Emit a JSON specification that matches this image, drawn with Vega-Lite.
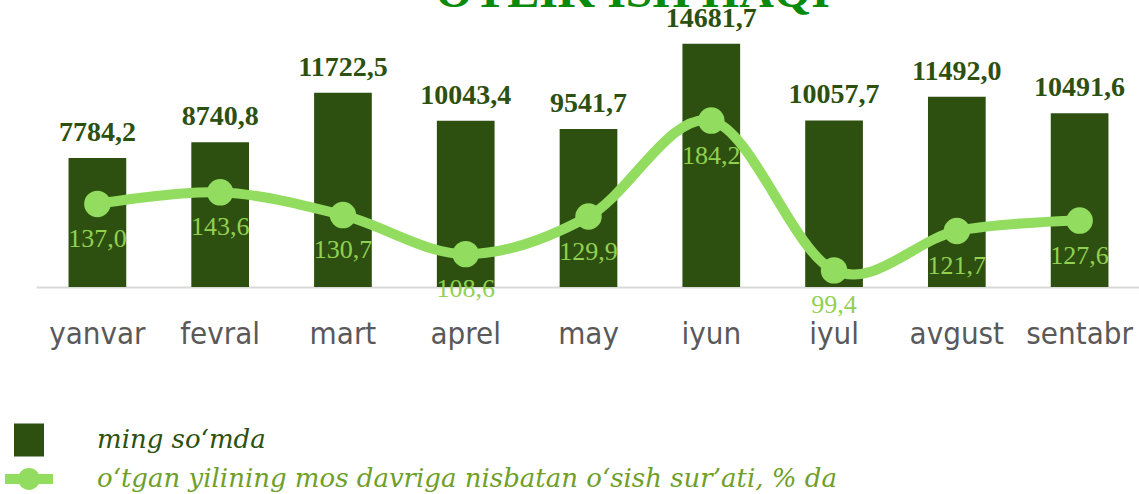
{
  "$schema": "https://vega.github.io/schema/vega-lite/v6.json",
  "autosize": {"type": "none"},
  "padding": {"left": 36, "top": 22, "right": 0, "bottom": 207},
  "width": 1105,
  "height": 265,
  "background": "white",
  "config": {
    "view": {"stroke": null},
    "locale": {"number": {"decimal": ",", "thousands": "", "grouping": [3], "currency": ["", ""]}}
  },
  "title": {
    "text": "OYLIK ISH HAQI",
    "font": "Liberation Serif",
    "fontWeight": "bold",
    "fontSize": 48,
    "color": "#0a8a0a",
    "anchor": "middle",
    "baseline": "alphabetic",
    "offset": 0,
    "dx": 44,
    "dy": 50
  },
  "data": {
    "values": [
      {"oy": "yanvar", "ish_haqi": 7784.2, "osish": 137.0},
      {"oy": "fevral", "ish_haqi": 8740.8, "osish": 143.6},
      {"oy": "mart", "ish_haqi": 11722.5, "osish": 130.7},
      {"oy": "aprel", "ish_haqi": 10043.4, "osish": 108.6},
      {"oy": "may", "ish_haqi": 9541.7, "osish": 129.9},
      {"oy": "iyun", "ish_haqi": 14681.7, "osish": 184.2},
      {"oy": "iyul", "ish_haqi": 10057.7, "osish": 99.4},
      {"oy": "avgust", "ish_haqi": 11492.0, "osish": 121.7},
      {"oy": "sentabr", "ish_haqi": 10491.6, "osish": 127.6}
    ]
  },
  "encoding": {
    "x": {
      "field": "oy",
      "type": "nominal",
      "sort": null,
      "scale": {"paddingInner": 0.53, "paddingOuter": 0.265},
      "axis": {
        "title": null,
        "labelAngle": 0,
        "labelFont": "DejaVu Sans Condensed",
        "labelFontSize": 31,
        "labelColor": "#595959",
        "ticks": false,
        "labelPadding": 32,
        "domainColor": "#d9d9d9",
        "domainWidth": 2,
        "grid": false
      }
    }
  },
  "layer": [
    {
      "layer": [
        {
          "mark": {"type": "bar"},
          "encoding": {
            "y": {"field": "ish_haqi", "type": "quantitative", "scale": {"domain": [0, 16000]}, "axis": null},
            "color": {
              "datum": "ming so‘mda",
              "type": "nominal",
              "scale": {
                "domain": ["ming so‘mda", "o‘tgan yilining mos davriga nisbatan o‘sish sur’ati, % da"],
                "range": ["#2d5010", "#92dc60"]
              },
              "legend": {
                "title": null,
                "orient": "none",
                "legendX": -22,
                "legendY": 403,
                "direction": "vertical",
                "padding": 0,
                "symbolSize": 900,
                "rowPadding": 7,
                "labelOffset": 53,
                "labelFont": "DejaVu Serif",
                "labelFontStyle": "italic",
                "labelFontSize": 26,
                "labelLimit": 1000,
                "encode": {
                  "symbols": {
                    "update": {
                      "shape": {"signal": "indexof(datum.value, 'ming') == 0 ? 'M-1,-1.1H1V1.1H-1Z' : 'M-1.6,-0.33H1.6V0.33H-1.6Z M0.73,0A0.73,0.73 0 1,1 -0.73,0A0.73,0.73 0 1,1 0.73,0Z'"},
                      "fill": {"scale": "color", "field": "value"},
                      "stroke": {"value": "transparent"},
                      "strokeWidth": {"value": 0},
                      "opacity": {"value": 1}
                    }
                  },
                  "labels": {
                    "update": {
                      "fill": {"signal": "indexof(datum.value, 'ming') == 0 ? '#2d5010' : '#6f9f2a'"}
                    }
                  }
                }
              }
            }
          }
        },
        {
          "mark": {"type": "text", "font": "Liberation Serif", "fontWeight": "bold", "fontSize": 28, "color": "#2d5010", "baseline": "alphabetic", "dy": -17},
          "encoding": {
            "y": {"field": "ish_haqi", "type": "quantitative", "scale": {"domain": [0, 16000]}, "axis": null},
            "text": {"field": "ish_haqi", "type": "quantitative", "format": ".1f"}
          }
        }
      ]
    },
    {
      "layer": [
        {
          "mark": {"type": "line", "interpolate": "cardinal", "strokeWidth": 10},
          "encoding": {
            "y": {"field": "osish", "type": "quantitative", "scale": {"domain": [90, 240]}, "axis": null},
            "color": {"datum": "o‘tgan yilining mos davriga nisbatan o‘sish sur’ati, % da", "type": "nominal"}
          }
        },
        {
          "mark": {"type": "point", "filled": true, "size": 700, "opacity": 1},
          "encoding": {
            "y": {"field": "osish", "type": "quantitative", "scale": {"domain": [90, 240]}, "axis": null},
            "color": {"datum": "o‘tgan yilining mos davriga nisbatan o‘sish sur’ati, % da", "type": "nominal"}
          }
        },
        {
          "mark": {"type": "text", "font": "Liberation Serif", "fontSize": 26, "color": "#92d050", "baseline": "alphabetic", "dy": 43},
          "encoding": {
            "y": {"field": "osish", "type": "quantitative", "scale": {"domain": [90, 240]}, "axis": null},
            "text": {"field": "osish", "type": "quantitative", "format": ".1f"}
          }
        }
      ]
    }
  ],
  "resolve": {"scale": {"y": "independent"}}
}
